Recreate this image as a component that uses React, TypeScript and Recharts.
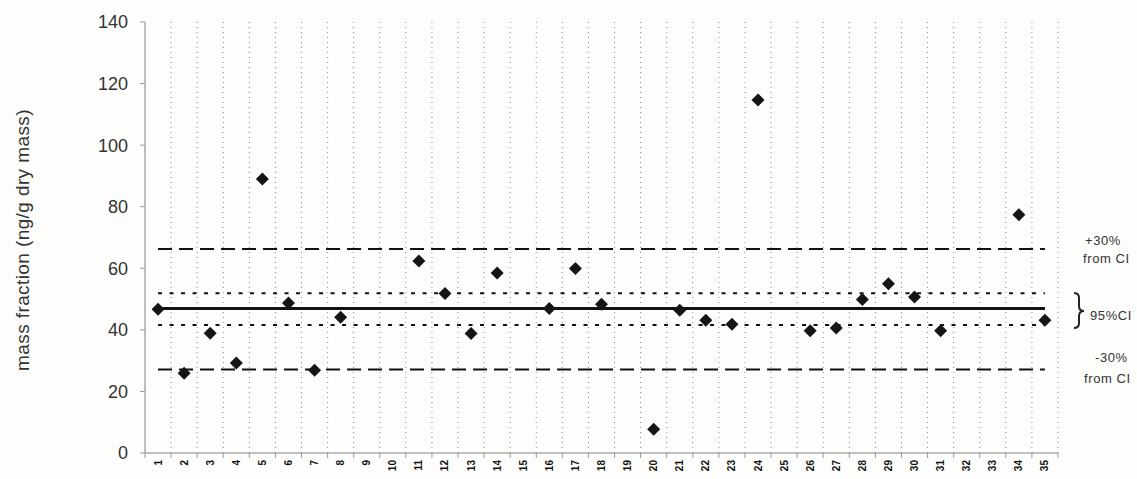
import React from "react";
import { ComposedChart, Scatter, XAxis, YAxis, ReferenceLine } from "recharts";

// lab codes along the x axis
const labs = [
  "1", "2", "3", "4", "5", "6", "7", "8", "9", "10",
  "11", "12", "13", "14", "15", "16", "17", "18", "19", "20",
  "21", "22", "23", "24", "25", "26", "27", "28", "29", "30",
  "31", "32", "33", "34", "35",
];

// reported mass fraction per lab (null = no result)
const massFraction: (number | null)[] = [
  46.7, 25.9, 38.9, 29.2, 89.0, 48.7, 26.9, 44.1, null, null,
  62.4, 51.8, 38.8, 58.5, null, 46.9, 59.9, 48.3, null, 7.7,
  46.4, 43.1, 41.8, 114.7, null, 39.7, 40.6, 49.9, 55.0, 50.7,
  39.7, null, null, 77.4, 43.1,
];

const yTicks = [0, 20, 40, 60, 80, 100, 120, 140];

// consensus value and bands
const consensus = 46.9;
const ciBand = [41.6, 51.9];
const thirtyBand = [27.1, 66.3];

const positions = labs.map((_, i) => i + 1);
const edges = [...labs.map((_, i) => i + 0.5), labs.length + 0.5];
const points = massFraction
  .map((v, i) => ({ x: i + 1, y: v }))
  .filter((p) => p.y !== null);

const first = positions[0];
const last = positions[positions.length - 1];

const font = "Arial, 'Liberation Sans', sans-serif";

const Diamond = (props: any) => {
  const { cx, cy } = props;
  if (cx == null || cy == null) return null;
  const r = 6.5;
  return (
    <polygon
      points={`${cx},${cy - r} ${cx + r},${cy} ${cx},${cy + r} ${cx - r},${cy}`}
      fill="#151515"
    />
  );
};

const LabTick = (props: any) => {
  const { x, y, payload } = props;
  const label = labs[payload.value - 1];
  return (
    <text
      x={x}
      y={y}
      transform={`rotate(-90 ${x} ${y})`}
      textAnchor="end"
      dominantBaseline="central"
      fontSize={10}
      fontWeight={700}
      fill="#111"
      fontFamily={font}
    >
      {label}
    </text>
  );
};

const NoLabel = () => <g />;

const note: React.CSSProperties = {
  position: "absolute",
  fontFamily: font,
  fontSize: 13,
  letterSpacing: 0.6,
  color: "#333",
  whiteSpace: "nowrap",
  lineHeight: 1,
  transform: "translateY(-50%)",
};

export default function App() {
  return (
    <div style={{ position: "absolute", left: 0, top: 0, width: 1137, height: 479, background: "#fdfdfb" }}>
      <ComposedChart width={1137} height={479} data={points} margin={{ top: 22, right: 79, bottom: 0, left: 0 }}>
        <XAxis
          xAxisId="edge"
          type="number"
          dataKey="x"
          domain={[0.5, labs.length + 0.5]}
          ticks={edges}
          interval={0}
          tick={<NoLabel />}
          tickSize={5}
          tickLine={{ stroke: "#999" }}
          axisLine={{ stroke: "#aaa", strokeWidth: 1.5 }}
          height={1}
        />
        <XAxis
          xAxisId="lab"
          type="number"
          dataKey="x"
          domain={[0.5, labs.length + 0.5]}
          ticks={positions}
          interval={0}
          tick={<LabTick />}
          tickLine={false}
          axisLine={false}
          tickSize={0}
          tickMargin={6}
          height={25}
        />
        <YAxis
          type="number"
          domain={[0, 140]}
          ticks={yTicks}
          interval={0}
          width={145}
          tickSize={5}
          tickMargin={12}
          tick={{ fontSize: 18, fill: "#333", fontFamily: font }}
          tickLine={{ stroke: "#999" }}
          axisLine={{ stroke: "#aaa", strokeWidth: 1.5 }}
        />
        {/* dotted separators between labs */}
        {edges.slice(1).map((e) => (
          <ReferenceLine
            key={`edge-${e}`}
            xAxisId="edge"
            x={e}
            stroke="#8a8a8a"
            strokeDasharray="1 4"
          />
        ))}
        <ReferenceLine
          xAxisId="lab"
          segment={[{ x: first, y: thirtyBand[1] }, { x: last, y: thirtyBand[1] }]}
          stroke="#111"
          strokeWidth={2}
          strokeDasharray="14 7"
        />
        <ReferenceLine
          xAxisId="lab"
          segment={[{ x: first, y: thirtyBand[0] }, { x: last, y: thirtyBand[0] }]}
          stroke="#111"
          strokeWidth={2}
          strokeDasharray="14 7"
        />
        <ReferenceLine
          xAxisId="lab"
          segment={[{ x: first, y: ciBand[1] }, { x: last, y: ciBand[1] }]}
          stroke="#111"
          strokeWidth={2}
          strokeDasharray="4 7.5"
        />
        <ReferenceLine
          xAxisId="lab"
          segment={[{ x: first, y: ciBand[0] }, { x: last, y: ciBand[0] }]}
          stroke="#111"
          strokeWidth={2}
          strokeDasharray="4 7.5"
        />
        <ReferenceLine
          xAxisId="lab"
          segment={[{ x: first, y: consensus }, { x: last, y: consensus }]}
          stroke="#111"
          strokeWidth={3}
        />
        <Scatter xAxisId="lab" dataKey="y" shape={<Diamond />} isAnimationActive={false} />
      </ComposedChart>

      <div
        style={{
          position: "absolute",
          left: 23,
          top: 240,
          transform: "translate(-50%, -50%) rotate(-90deg)",
          fontFamily: font,
          fontSize: 19,
          letterSpacing: 0.4,
          color: "#333",
          whiteSpace: "nowrap",
        }}
      >
        mass fraction (ng/g dry mass)
      </div>

      <div style={{ ...note, left: 1085, top: 240 }}>+30%</div>
      <div style={{ ...note, left: 1083, top: 258 }}>from CI</div>
      <svg style={{ position: "absolute", left: 1068, top: 288 }} width={20} height={46}>
        <path
          d="M6,5 Q11,5 11,10 L11,18 Q11,23 16,23 Q11,23 11,28 L11,35 Q11,40 6,40"
          fill="none"
          stroke="#222"
          strokeWidth={2}
        />
      </svg>
      <div style={{ ...note, left: 1090, top: 315 }}>95%CI</div>
      <div style={{ ...note, left: 1095, top: 357 }}>-30%</div>
      <div style={{ ...note, left: 1084, top: 378 }}>from CI</div>
    </div>
  );
}
